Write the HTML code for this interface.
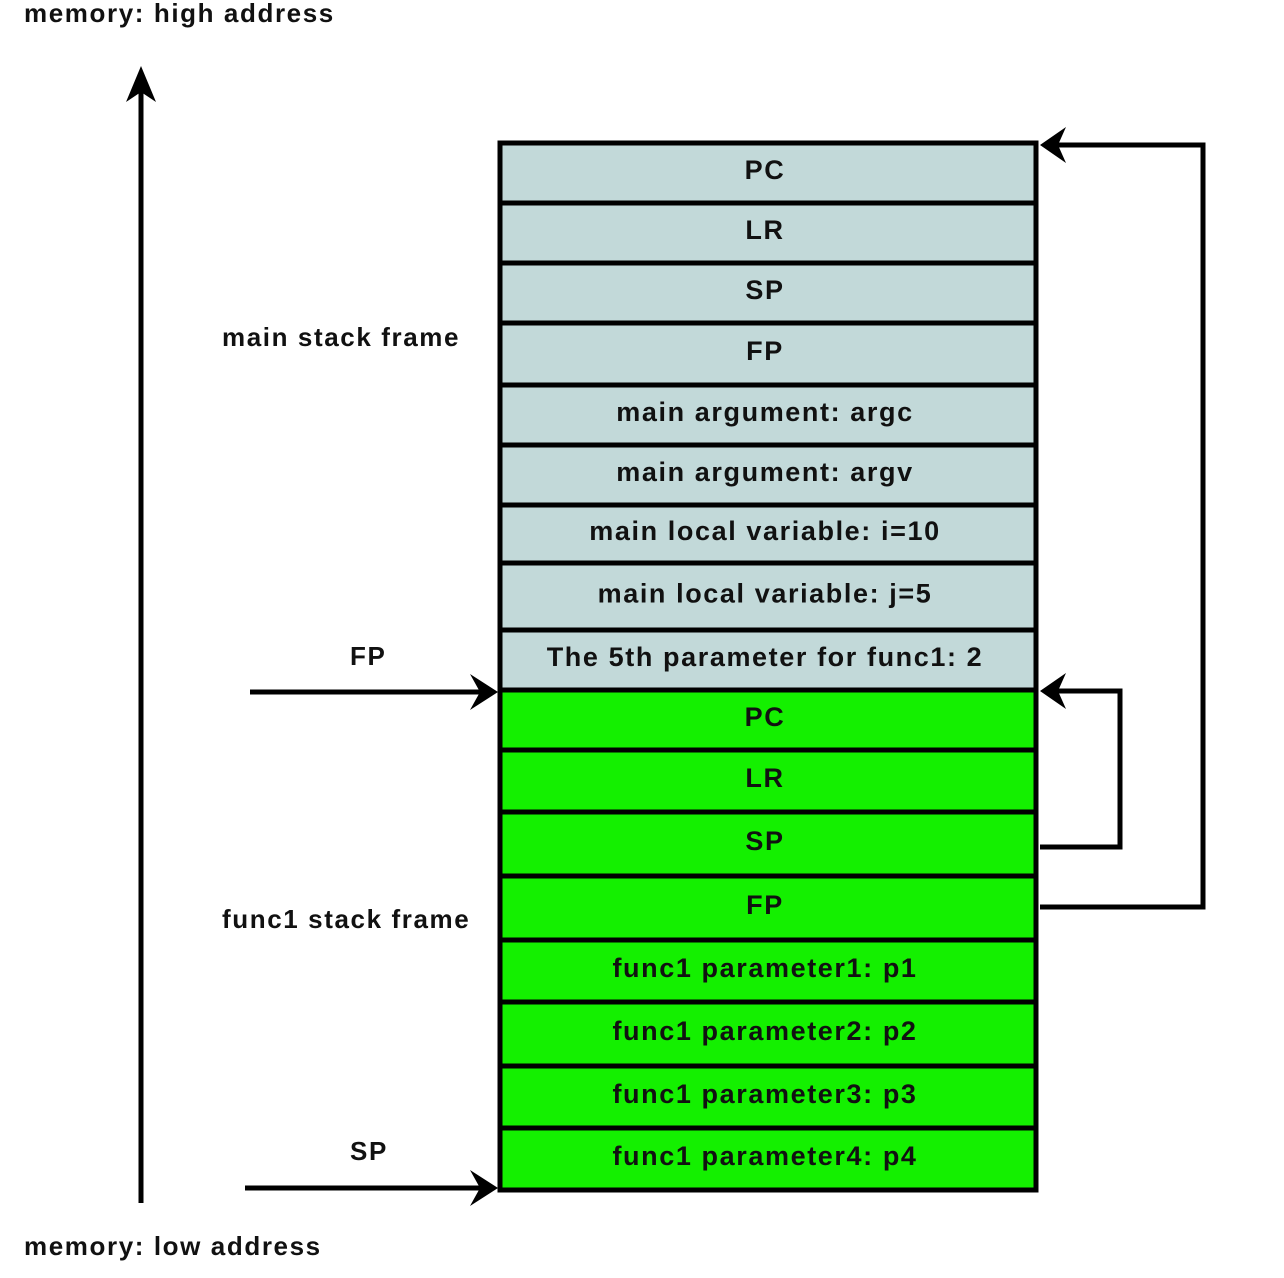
<!DOCTYPE html>
<html><head><meta charset="utf-8"><style>
html,body{margin:0;padding:0;background:#fff;}
svg{display:block;}
text{font-family:"Liberation Sans",sans-serif;font-weight:bold;fill:#111;letter-spacing:1.6px;}
</style></head><body>
<svg id="d" width="1284" height="1278" viewBox="0 0 1284 1278">
<text x="24" y="22" font-size="26">memory: high address</text>
<text x="24" y="1255" font-size="26">memory: low address</text>
<line x1="141" y1="1203" x2="141" y2="90" stroke="#000" stroke-width="5"/>
<polygon points="141,66 126,102 141,92 156,102" fill="#000"/>
<text x="222" y="346" font-size="26">main stack frame</text>
<text x="222" y="928" font-size="26">func1 stack frame</text>
<text x="350" y="665" font-size="26">FP</text>
<text x="350" y="1160" font-size="26">SP</text>
<g id="rows"></g>
<line x1="250" y1="692" x2="480" y2="692" stroke="#000" stroke-width="5"/>
<polygon points="498,692 470,674 480,692 470,710" fill="#000"/>
<line x1="245" y1="1188" x2="480" y2="1188" stroke="#000" stroke-width="5"/>
<polygon points="498,1188 470,1170 480,1188 470,1206" fill="#000"/>
<polyline points="1040,847 1120,847 1120,691 1058,691" fill="none" stroke="#000" stroke-width="5"/>
<polygon points="1040,691 1066,673 1058,691 1066,709" fill="#000"/>
<polyline points="1040,907 1203,907 1203,145 1058,145" fill="none" stroke="#000" stroke-width="5"/>
<polygon points="1040,145 1066,127 1058,145 1066,163" fill="#000"/>
</svg>
<script>
const labels=["PC","LR","SP","FP","main argument:  argc","main argument:  argv","main local variable:  i=10","main local variable:  j=5","The 5th parameter for func1: 2","PC","LR","SP","FP","func1 parameter1: p1","func1 parameter2: p2","func1 parameter3: p3","func1 parameter4: p4"];
const bounds=[143,203,263,323,385,445,505,563,630,690,750,812,876,940,1002,1066,1128,1190];
const frames=["main","main","main","main","main","main","main","main","main","func1","func1","func1","func1","func1","func1","func1","func1"];
const NS="http://www.w3.org/2000/svg";
const g=document.getElementById('rows');
labels.forEach((l,i)=>{
  const y0=bounds[i],y1=bounds[i+1];
  const r=document.createElementNS(NS,'rect');
  r.setAttribute('x',500);r.setAttribute('y',y0);r.setAttribute('width',536);r.setAttribute('height',y1-y0);
  r.setAttribute('fill',frames[i]==="main"?"#c2d9d9":"#14f000");
  r.setAttribute('stroke','#000');r.setAttribute('stroke-width',5);
  
  
  g.appendChild(r);
  const t=document.createElementNS(NS,'text');
  t.setAttribute('x',765);t.setAttribute('y',(y0+y1)/2+6);t.setAttribute('text-anchor','middle');t.setAttribute('font-size',27);
  t.textContent=l;
  
  
  g.appendChild(t);
});
</script>
</body></html>
